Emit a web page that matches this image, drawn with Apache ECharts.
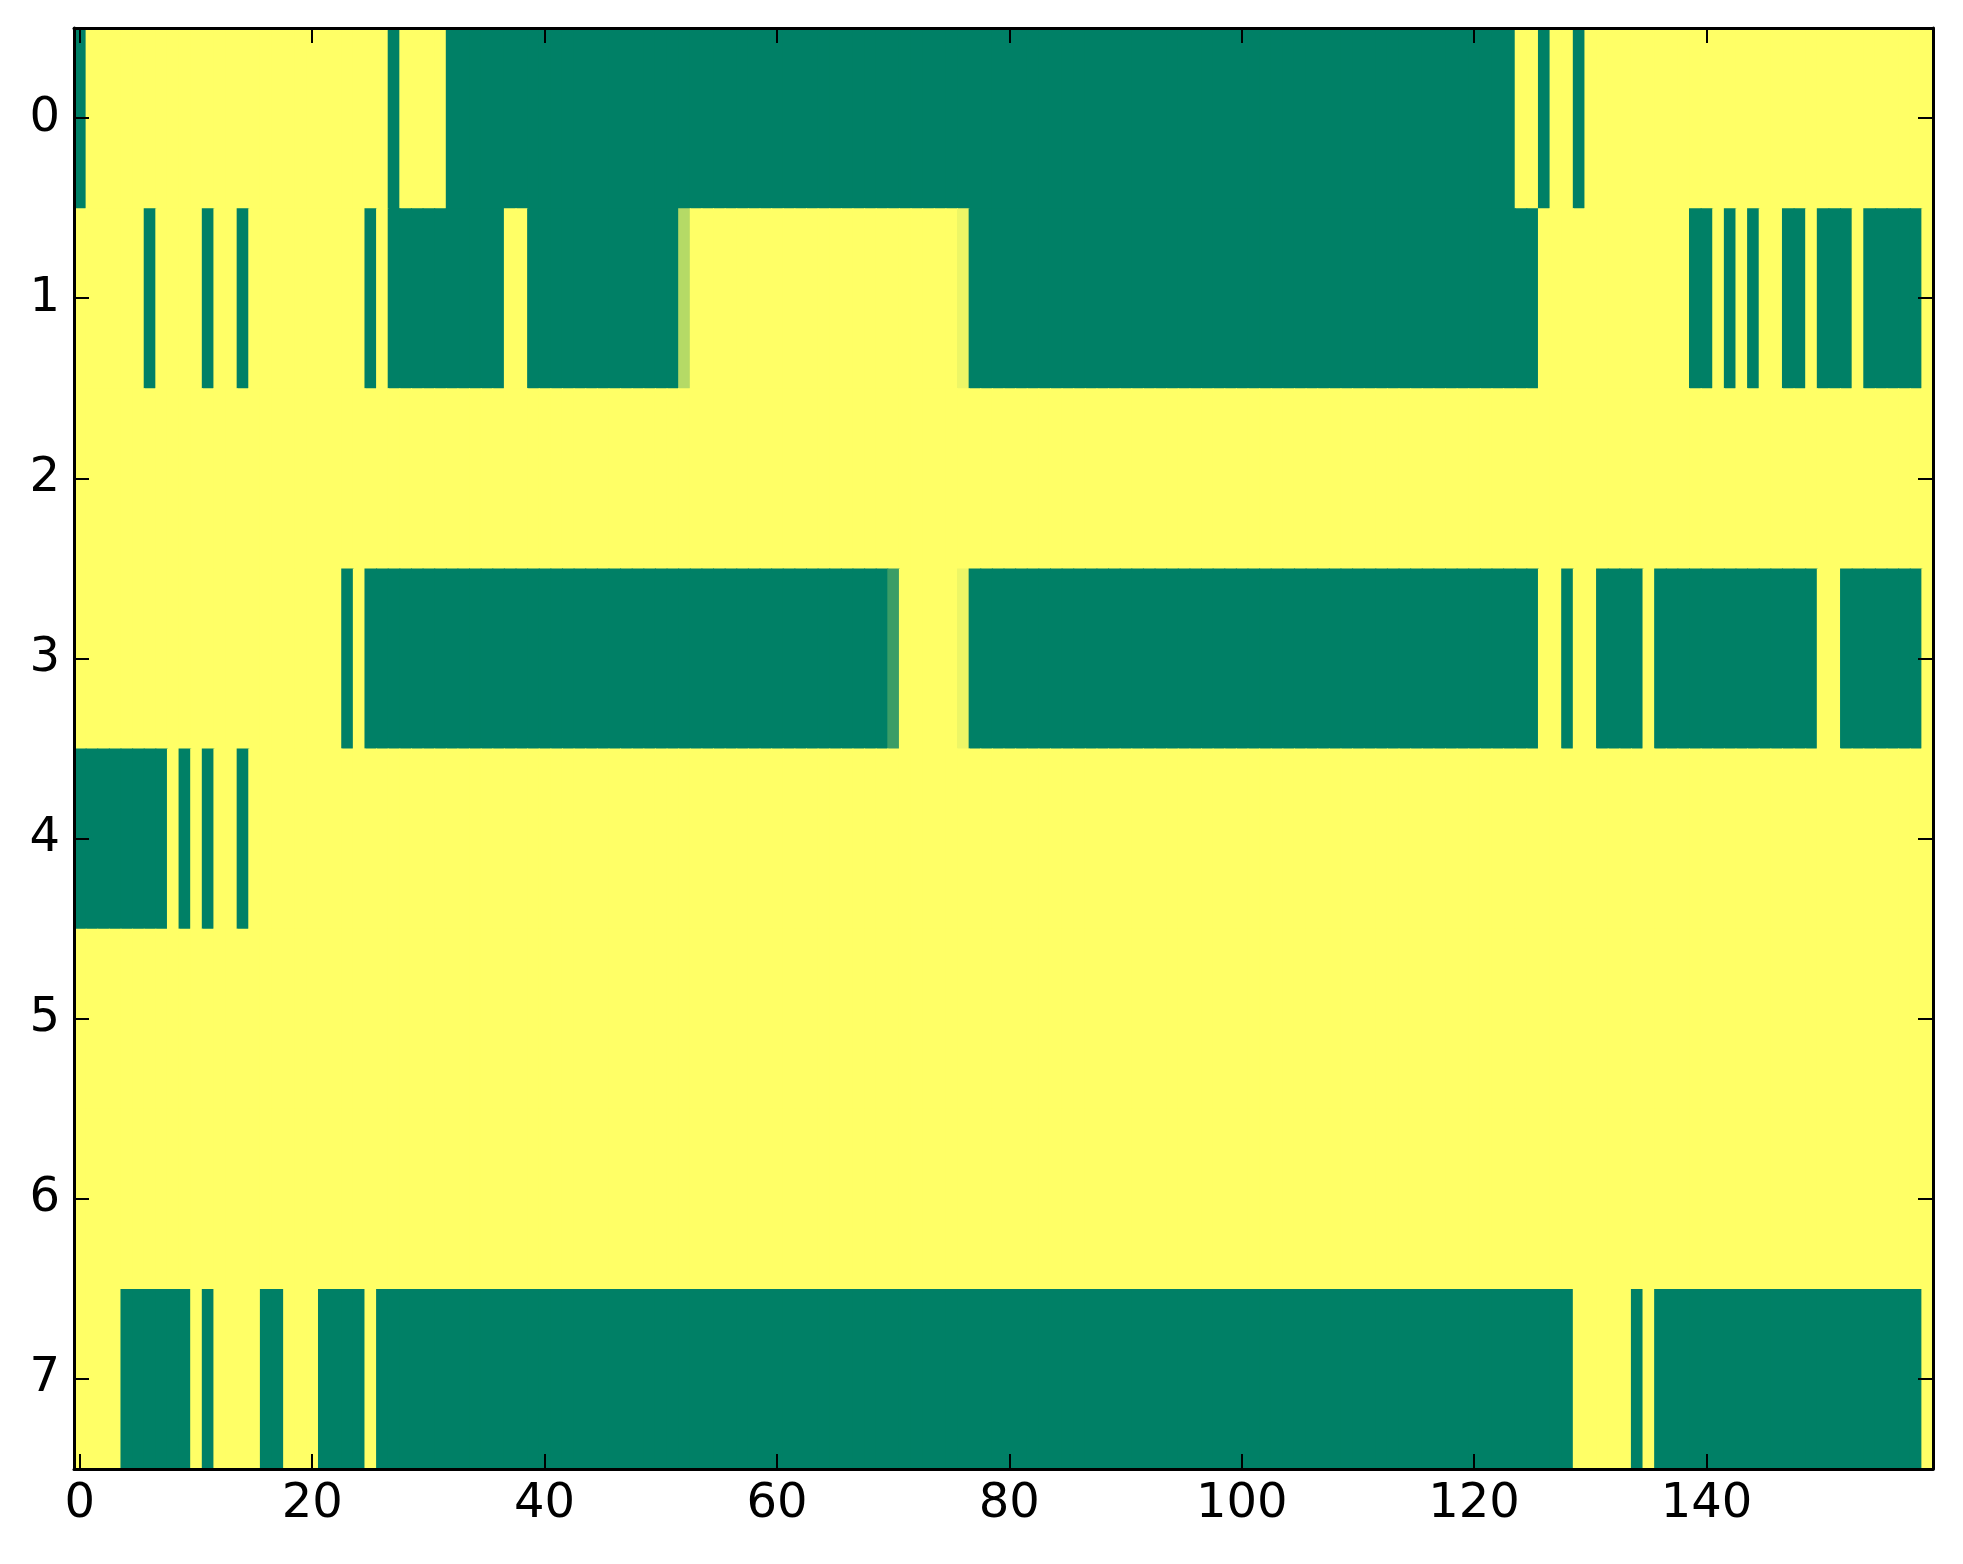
<!DOCTYPE html>
<html>
<head>
<meta charset="utf-8">
<script src="https://cdn.jsdelivr.net/npm/echarts@6/dist/echarts.min.js"></script>
<style>
html,body{margin:0;padding:0;background:#fff;}
#c{width:1963px;height:1564px;}
</style>
</head>
<body>
<div id="c"></div>
<script>
// Run-length rows: [value, count]; value 0 = green, 1 = yellow
var row0 = [[0,1],[1,26],[0,1],[1,4],[0,92],[1,2],[0,1],[1,2],[0,1],[1,30]];
var row1 = [[1,6],[0,1],[1,4],[0,1],[1,2],[0,1],[1,10],[0,1],[1,1],[0,10],[1,2],[0,13],[0.71,1],[1,23],[0.93,1],[0,49],[1,13],[0,2],[1,1],[0,1],[1,1],[0,1],[1,2],[0,2],[1,1],[0,3],[1,1],[0,5],[1,1]];
var row2 = [[1,160]];
var row3 = [[1,23],[0,1],[1,1],[0,45],[0.23,1],[1,5],[0.93,1],[0,49],[1,2],[0,1],[1,2],[0,4],[1,1],[0,14],[1,2],[0,7],[1,1]];
var row4 = [[0,8],[1,1],[0,1],[1,1],[0,1],[1,2],[0,1],[1,145]];
var row5 = [[1,160]];
var row6 = [[1,160]];
var row7 = [[1,4],[0,6],[1,1],[0,1],[1,4],[0,2],[1,3],[0,4],[1,1],[0,103],[1,5],[0,1],[1,1],[0,23],[1,1]];
var rows = [row0,row1,row2,row3,row4,row5,row6,row7];

var nCols = 160;
var xCategories = [];
for (var i = 0; i < nCols; i++) xCategories.push(String(i));
var yCategories = ['0','1','2','3','4','5','6','7'];
var xTickStep = 20;

var data = [];
rows.forEach(function (segs, r) {
  var c = 0;
  segs.forEach(function (s) {
    for (var k = 0; k < s[1]; k++) { data.push([c, r, s[0]]); c++; }
  });
});

var font = {fontFamily: 'DejaVu Sans', fontSize: 48, color: '#000'};
var lineStyle = {color: '#000', width: 3};
var tickStyle = {color: '#000', width: 2};
function xInt(idx) { return idx % xTickStep === 0; }

function renderCell(params, api) {
  var p = api.coord([api.value(0), api.value(1)]);
  var s = api.size([1, 1]);
  var col = api.visual('color');
  return {
    type: 'rect',
    shape: {x: p[0] - s[0] / 2, y: p[1] - s[1] / 2, width: s[0] + 1, height: s[1] + 1},
    style: {fill: col, stroke: null}
  };
}

var chart = echarts.init(document.getElementById('c'), null, {renderer: 'canvas'});
chart.setOption({
  animation: false,
  backgroundColor: '#fff',
  grid: {left: 74, top: 28, width: 1859, height: 1441, containLabel: false},
  visualMap: {show: false, type: 'continuous', min: 0, max: 1, dimension: 2, seriesIndex: 0,
    inRange: {color: ['#008066', '#ffff66']}},
  xAxis: [
    {type: 'category', data: xCategories, position: 'bottom', z: 10,
     axisLine: {show: true, lineStyle: lineStyle},
     axisTick: {show: true, inside: true, length: 15, alignWithLabel: true, interval: xInt, lineStyle: tickStyle},
     axisLabel: Object.assign({show: true, interval: xInt, margin: 12}, font),
     splitLine: {show: false}},
    {type: 'category', data: xCategories, position: 'top', z: 10,
     axisLine: {show: true, lineStyle: lineStyle},
     axisTick: {show: true, inside: true, length: 15, alignWithLabel: true, interval: xInt, lineStyle: tickStyle},
     axisLabel: {show: false}, splitLine: {show: false}}
  ],
  yAxis: [
    {type: 'category', data: yCategories, inverse: true, position: 'left', z: 10,
     axisLine: {show: true, lineStyle: lineStyle},
     axisTick: {show: true, inside: true, length: 15, alignWithLabel: true, interval: 0, lineStyle: tickStyle},
     axisLabel: Object.assign({show: true, interval: 0, margin: 14}, font),
     splitLine: {show: false}},
    {type: 'category', data: yCategories, inverse: true, position: 'right', z: 10,
     axisLine: {show: true, lineStyle: lineStyle},
     axisTick: {show: true, inside: true, length: 15, alignWithLabel: true, interval: 0, lineStyle: tickStyle},
     axisLabel: {show: false}, splitLine: {show: false}}
  ],
  series: [{
    type: 'custom', xAxisIndex: 0, yAxisIndex: 0, data: data,
    renderItem: renderCell, clip: true, progressive: 0,
    encode: {x: 0, y: 1},
    emphasis: {disabled: true}, silent: true
  }]
});
</script>
</body>
</html>
